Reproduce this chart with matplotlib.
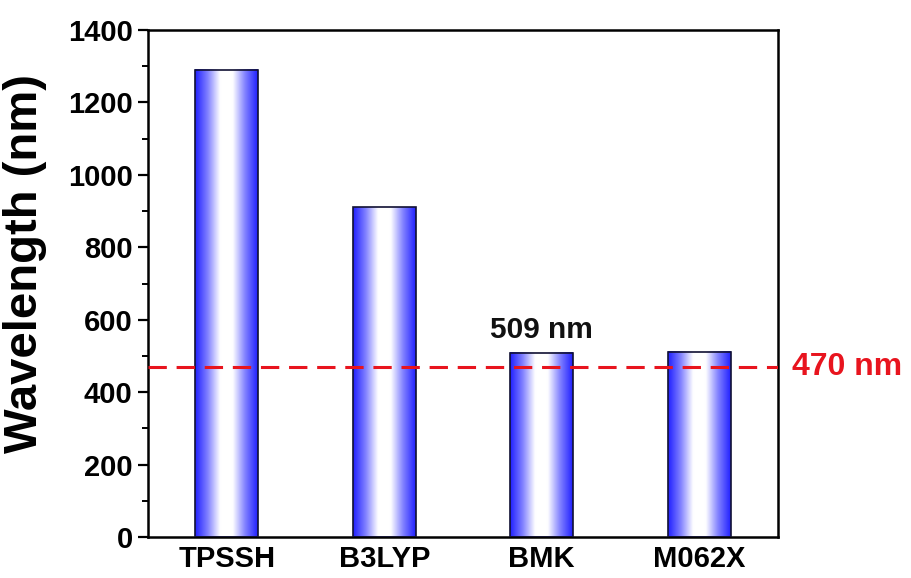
import numpy as np
import matplotlib
matplotlib.use("Agg")
import matplotlib.pyplot as plt
from matplotlib.colors import LinearSegmentedColormap
from matplotlib.ticker import MultipleLocator

categories = ["TPSSH", "B3LYP", "BMK", "M062X"]
wavelengths = [1290, 911, 509, 511]
reference_nm = 470
yticks = [0, 200, 400, 600, 800, 1000, 1200, 1400]

plt.rcParams['font.family'] = ['Liberation Sans', 'DejaVu Sans']
plt.rcParams['font.weight'] = 'bold'

fig = plt.figure(figsize=(9.11, 5.78), dpi=100)
ax = fig.add_axes([148/911, 1-537/578, 630/911, 507/578])

x = np.arange(len(categories))
width = 0.4
bars = ax.bar(x, wavelengths, width=width, facecolor='none', edgecolor='#111133',
              linewidth=1.2, zorder=3)

cmap = LinearSegmentedColormap.from_list('bw', ['#2020ff', '#8080ff', '#ffffff', '#ffffff', '#8080ff', '#2020ff'])
grad = np.linspace(0, 1, 256).reshape(1, -1)
for b in bars:
    x0 = b.get_x()
    ax.imshow(grad, cmap=cmap, aspect='auto', zorder=2,
              extent=(x0, x0 + b.get_width(), 0, b.get_height()),
              interpolation='bicubic')

ax.axhline(reference_nm, color='#e8141e', linestyle=(0, (6, 3.2)), linewidth=2.2, zorder=4)
ax.text(1.022, reference_nm, f"{reference_nm} nm", transform=ax.get_yaxis_transform(),
        color='#e8141e', fontsize=23, fontweight='bold', va='center', ha='left',
        clip_on=False)

ax.text(x[2], wavelengths[2] + 25, f"{wavelengths[2]} nm", ha='center', va='bottom',
        fontsize=21.5, fontweight='bold', color='#111111')

ax.set_xlim(-0.5, len(categories) - 0.5)
ax.set_ylim(0, 1400)
ax.set_yticks(yticks)
ax.yaxis.set_minor_locator(MultipleLocator(100))
ax.set_xticks(x)
ax.set_xticklabels(categories, fontsize=21, fontweight='bold')
ax.tick_params(axis='x', length=0, pad=6)
ax.tick_params(axis='y', which='major', direction='out', length=7, width=1.6,
               labelsize=21, pad=4, right=False)
ax.tick_params(axis='y', which='minor', direction='out', length=4, width=1.4, right=False)
for lab in ax.get_yticklabels():
    lab.set_fontweight('bold')
for s in ax.spines.values():
    s.set_linewidth(1.8)
ax.set_ylabel("Wavelength (nm)", fontsize=34, fontweight='bold')
ax.yaxis.set_label_coords(-0.160, 0.54)

fig.savefig("out.png", dpi=100)
